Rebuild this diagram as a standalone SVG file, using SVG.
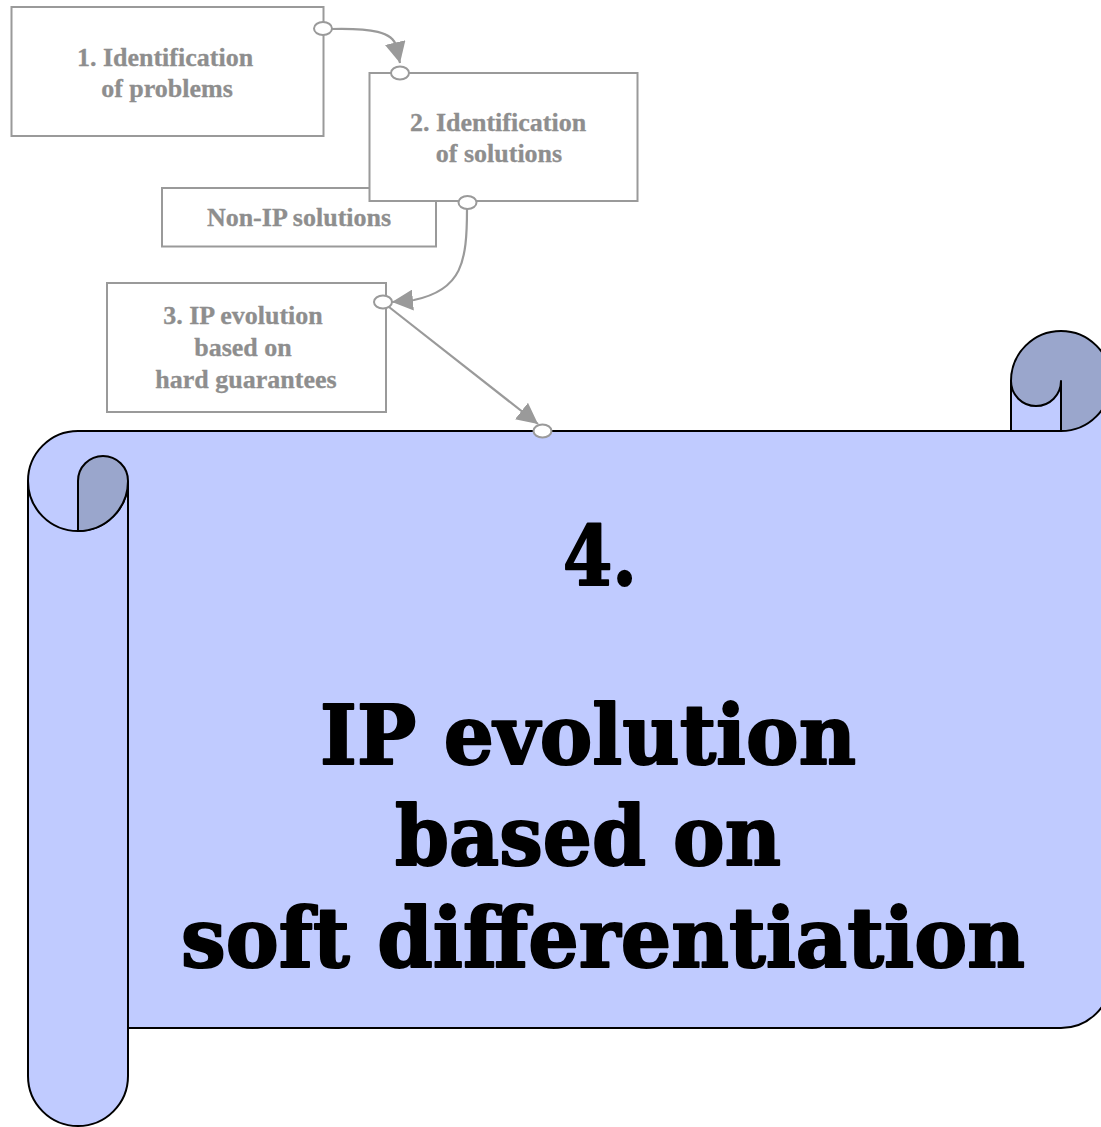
<svg xmlns="http://www.w3.org/2000/svg" width="1101" height="1127" viewBox="0 0 1101 1127">
  <style>
    .box { fill: #ffffff; stroke: #9a9a9a; stroke-width: 2; }
    .lbl { font-family: "Liberation Serif", "Times New Roman", serif; font-weight: bold; font-size: 26px; fill: #8e8e8e; text-anchor: middle; stroke: #8e8e8e; stroke-width: 0.3; }
    .conn { fill: none; stroke: #9a9a9a; stroke-width: 2.2; marker-end: url(#arrow); }
    .port { fill: #ffffff; stroke: #9a9a9a; stroke-width: 2; }
    .light { fill: #c0cbff; }
    .dark { fill: #9aa6cc; }
    .edge { stroke: #000000; stroke-width: 2; stroke-linejoin: round; }
    .big { font-family: "DejaVu Serif", "Liberation Serif", serif; font-weight: bold; font-size: 82px; fill: #000000; stroke: #000000; stroke-width: 2; stroke-linejoin: round; }
  </style>
  <defs>
    <marker id="arrow" markerUnits="userSpaceOnUse" markerWidth="21" markerHeight="21" viewBox="0 0 20 20" refX="20" refY="10" orient="auto">
      <path d="M0,0 L20,10 L0,20 Z" fill="#9a9a9a"/>
    </marker>
  </defs>

  <!-- Scroll banner -->
  <g id="scroll">
    <!-- body and left roll fill -->
    <path class="light" d="M28,481 A50,50 0 0 1 78,431 L1061,431 L1061,381 L1111,381 L1111,978 A50,50 0 0 1 1061,1028 L128,1028 L128,1076 A50,50 0 0 1 28,1076 Z"/>
    <!-- top-right curl -->
    <path class="light edge" d="M1011,381 L1011,431 L1061,431 L1061,381 Z"/>
    <path class="dark edge" d="M1011,381 A50,50 0 0 1 1111,381 A50,50 0 0 1 1061,431 L1061,381 A25,25 0 0 1 1011,381 Z"/>
    <!-- outline -->
    <path class="edge" fill="none" d="M128,481 L128,1076 A50,50 0 0 1 28,1076 L28,481 A50,50 0 0 1 78,431 L1061,431"/>
    <path class="edge" fill="none" d="M1111,381 L1111,978 A50,50 0 0 1 1061,1028 L128,1028"/>
    <!-- top-left curl -->
    <path class="edge" fill="none" d="M28,481 A50,50 0 0 0 128,481"/>
    <path class="dark edge" d="M78,531 L78,481 A25,25 0 0 1 128,481 A50,50 0 0 1 78,531 Z"/>
    <text class="big" x="563" y="585" textLength="74" lengthAdjust="spacingAndGlyphs">4.</text>
    <text class="big" x="320" y="764" textLength="536" lengthAdjust="spacingAndGlyphs">IP evolution</text>
    <text class="big" x="395" y="865" textLength="386" lengthAdjust="spacingAndGlyphs">based on</text>
    <text class="big" x="181" y="967" textLength="844" lengthAdjust="spacingAndGlyphs">soft differentiation</text>
  </g>

  <!-- Step boxes -->
  <g id="step1">
    <rect class="box" x="11.5" y="7" width="312" height="129"/>
    <text class="lbl" x="165" y="66">1. Identification</text>
    <text class="lbl" x="167" y="97">of problems</text>
  </g>
  <g id="non-ip">
    <rect class="box" x="162" y="188" width="274" height="58.5"/>
    <text class="lbl" x="299" y="226">Non-IP solutions</text>
  </g>
  <g id="step2">
    <rect class="box" x="369.5" y="73" width="268" height="128"/>
    <text class="lbl" x="498" y="131">2. Identification</text>
    <text class="lbl" x="499" y="162">of solutions</text>
  </g>
  <g id="step3">
    <rect class="box" x="107" y="283" width="279" height="129"/>
    <text class="lbl" x="243" y="324">3. IP evolution</text>
    <text class="lbl" x="243" y="356">based on</text>
    <text class="lbl" x="246" y="388">hard guarantees</text>
  </g>

  <!-- Connectors -->
  <g id="connectors">
    <path class="conn" d="M331,29 C372,28 393,32 396,46 L400,63"/>
    <path class="conn" d="M467,209 C467,262 462,290 414,300 L392,302"/>
    <path class="conn" d="M389,307 L538,424"/>
    <ellipse class="port" cx="323" cy="28.5" rx="9" ry="6.5"/>
    <ellipse class="port" cx="400" cy="73" rx="9" ry="6.5"/>
    <ellipse class="port" cx="467.5" cy="202.5" rx="9" ry="6.5"/>
    <ellipse class="port" cx="383" cy="302" rx="9" ry="6.5"/>
    <ellipse class="port" cx="542.5" cy="431" rx="9" ry="6.5"/>
  </g>
</svg>
